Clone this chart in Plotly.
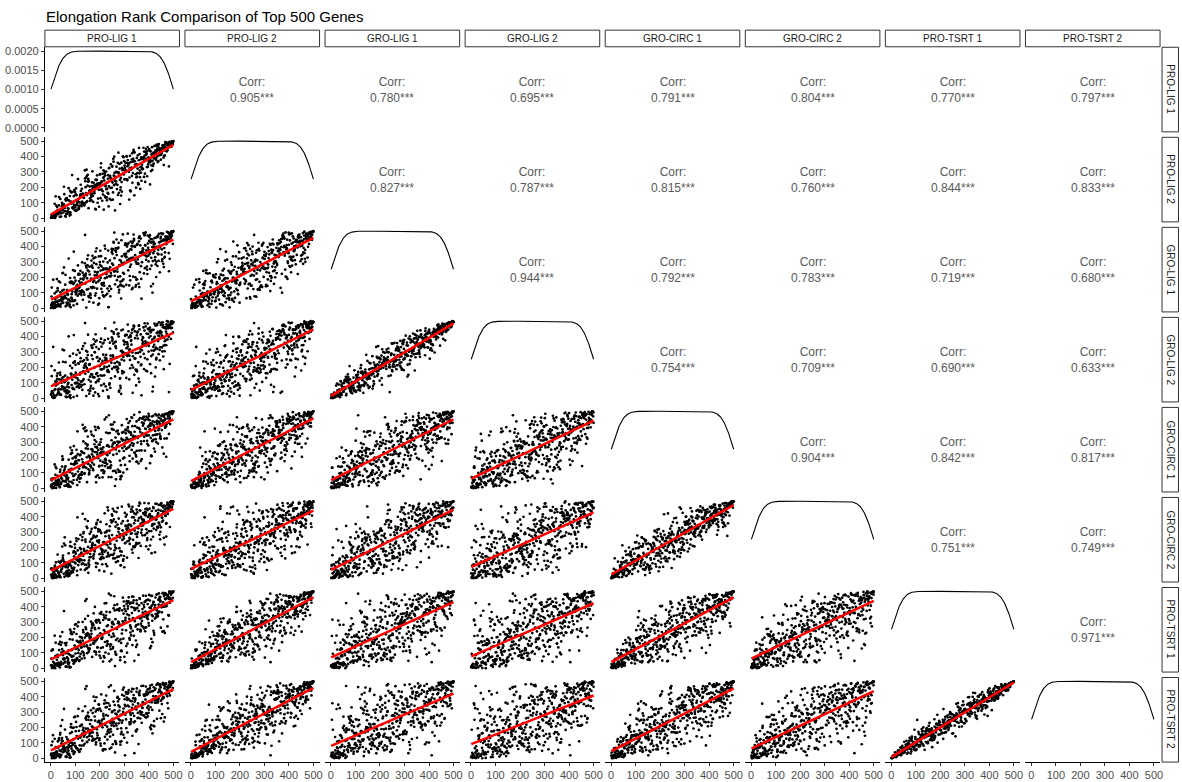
import numpy as np
import plotly.graph_objects as go

# ---------------------------------------------------------------- data
samples = ["PRO-LIG 1", "PRO-LIG 2", "GRO-LIG 1", "GRO-LIG 2",
           "GRO-CIRC 1", "GRO-CIRC 2", "PRO-TSRT 1", "PRO-TSRT 2"]
n_genes = 500

# Pairwise correlations of the elongation ranks (upper triangle, row by row)
corr_row_1 = [0.905, 0.780, 0.695, 0.791, 0.804, 0.770, 0.797]
corr_row_2 = [0.827, 0.787, 0.815, 0.760, 0.844, 0.833]
corr_row_3 = [0.944, 0.792, 0.783, 0.719, 0.680]
corr_row_4 = [0.754, 0.709, 0.690, 0.633]
corr_row_5 = [0.904, 0.842, 0.817]
corr_row_6 = [0.751, 0.749]
corr_row_7 = [0.971]
corr_rows = [corr_row_1, corr_row_2, corr_row_3, corr_row_4,
             corr_row_5, corr_row_6, corr_row_7]
signif_stars = "***"

rank_ticks = [0, 100, 200, 300, 400, 500]
density_ticks = [0.0, 0.0005, 0.0010, 0.0015, 0.0020]

k = len(samples)
target = np.eye(k)
for i, row in enumerate(corr_rows):
    for off, r in enumerate(row):
        j = i + 1 + off
        target[i, j] = target[j, i] = r


def rank_cols(z):
    return np.argsort(np.argsort(z, axis=0), axis=0) + 1.0


def nearest_corr(m):
    w, v = np.linalg.eigh(m)
    w = np.clip(w, 1e-4, None)
    m = v @ np.diag(w) @ v.T
    d = np.sqrt(np.diag(m))
    return m / np.outer(d, d)


# Per-gene ranks: Gaussian copula tuned so that the rank correlations
# reproduce the correlation table above.
rng = np.random.default_rng(11)
E = rng.standard_normal((n_genes, k))
E -= E.mean(axis=0)
E = E @ np.linalg.inv(np.linalg.cholesky(np.cov(E, rowvar=False))).T
latent = 2 * np.sin(np.pi * target / 6)
ranks = None
for _ in range(300):
    m = nearest_corr(latent)
    ranks = rank_cols(E @ np.linalg.cholesky(m).T)
    got = np.corrcoef(ranks, rowvar=False)
    err = target - got
    if np.abs(err).max() < 2e-4:
        break
    latent = latent + err
    np.fill_diagonal(latent, 1.0)


def kde_nrd0(x, n=512):
    x = np.asarray(x, float)
    sd = x.std(ddof=1)
    iqr = np.subtract(*np.percentile(x, [75, 25]))
    bw = 0.9 * min(sd, iqr / 1.34) * len(x) ** -0.2
    grid = np.linspace(x.min(), x.max(), n)
    dens = np.exp(-0.5 * ((grid[:, None] - x[None, :]) / bw) ** 2).sum(1)
    dens /= len(x) * bw * np.sqrt(2 * np.pi)
    return grid, dens


# ---------------------------------------------------------------- layout
FIG_W, FIG_H = 1182, 782
X0, X1 = 45.0, 1163.0
Y0, Y1 = 45.5, 764.0
GAP = 5.5
PW = (X1 - X0 - 7 * GAP) / 8
PH = (Y1 - Y0 - 7 * GAP) / 8

FONT = "Liberation Sans, Arial, sans-serif"
TICK_FONT = dict(family=FONT, size=11, color="#4d4d4d")


def px_x(p):
    return p / FIG_W


def px_y(p):
    return 1 - p / FIG_H


def cell_box(i, j):
    left = X0 + j * (PW + GAP)
    top = Y0 + i * (PH + GAP)
    return left, left + PW, top, top + PH


lo_r = ranks.min() - 0.05 * (ranks.max() - ranks.min())
hi_r = ranks.max() + 0.05 * (ranks.max() - ranks.min())

fig = go.Figure()
layout = dict(
    width=FIG_W, height=FIG_H, autosize=False,
    margin=dict(l=0, r=0, t=0, b=0),
    paper_bgcolor="white", plot_bgcolor="white",
    showlegend=False, font=dict(family=FONT),
)
annotations = []
shapes = []


def centred_note(xp, yp, text, font, angle=0):
    return dict(x=px_x(xp), y=px_y(yp), xref="paper", yref="paper",
                xanchor="center", yanchor="middle", showarrow=False,
                text=text, font=font, textangle=angle, align="center")


ax_n = 0
for i in range(k):
    for j in range(k):
        left, right, top, bottom = cell_box(i, j)
        if j > i:
            r = target[i, j]
            annotations.append(centred_note(
                (left + right) / 2, (top + bottom) / 2,
                f"Corr:<br>{r:.3f}{signif_stars}",
                dict(family=FONT, size=12, color="#595959")))
            continue

        ax_n += 1
        xa = "x" if ax_n == 1 else f"x{ax_n}"
        ya = "y" if ax_n == 1 else f"y{ax_n}"
        xkey = "xaxis" if ax_n == 1 else f"xaxis{ax_n}"
        ykey = "yaxis" if ax_n == 1 else f"yaxis{ax_n}"

        xaxis = dict(domain=[px_x(left), px_x(right)], anchor=ya,
                     range=[lo_r, hi_r], showgrid=False, zeroline=False,
                     showline=False, showticklabels=False, ticks="")
        yaxis = dict(domain=[px_y(bottom), px_y(top)], anchor=xa,
                     showgrid=False, zeroline=False,
                     showline=False, showticklabels=False, ticks="")

        if i == j:
            grid, dens = kde_nrd0(ranks[:, j])
            fig.add_trace(go.Scatter(
                x=grid, y=dens, mode="lines", xaxis=xa, yaxis=ya,
                line=dict(color="black", width=1.1), hoverinfo="skip"))
            dmax = dens.max()
            yaxis["range"] = [-0.05 * dmax, 1.05 * dmax]
            if j == 0:
                yaxis.update(tickvals=density_ticks,
                             ticktext=[f"{t:.4f}" for t in density_ticks])
        else:
            xv = ranks[:, j]
            yv = ranks[:, i]
            fig.add_trace(go.Scatter(
                x=xv, y=yv, mode="markers", xaxis=xa, yaxis=ya,
                marker=dict(color="black", size=2.7, line=dict(width=0)),
                hoverinfo="skip"))
            slope, icpt = np.polyfit(xv, yv, 1)
            xs = np.array([xv.min(), xv.max()])
            fig.add_trace(go.Scatter(
                x=xs, y=icpt + slope * xs, mode="lines", xaxis=xa, yaxis=ya,
                line=dict(color="#ff0000", width=2.5), hoverinfo="skip"))
            yaxis["range"] = [lo_r, hi_r]
            if j == 0:
                yaxis.update(tickvals=rank_ticks)

        if j == 0:
            yaxis.update(showline=True, linecolor="black", linewidth=1.1,
                         showticklabels=True, ticks="outside", ticklen=3,
                         tickwidth=1, tickcolor="#333333", tickfont=TICK_FONT)
        if i == k - 1:
            xaxis.update(showline=True, linecolor="black", linewidth=1.1,
                         showticklabels=True, ticks="outside", ticklen=3,
                         tickwidth=1, tickcolor="#333333", tickfont=TICK_FONT,
                         tickvals=rank_ticks)
        layout[xkey] = xaxis
        layout[ykey] = yaxis

# facet strips: sample names along the top and down the right side
STRIP_LINE = dict(color="#333333", width=1)
STRIP_FONT = dict(family=FONT, size=10, color="#1a1a1a")
STRIP_TOP = 28.3
for j, name in enumerate(samples):
    left, right, _, _ = cell_box(0, j)
    shapes.append(dict(type="rect", xref="paper", yref="paper",
                       x0=px_x(left), x1=px_x(right),
                       y0=px_y(Y0 - 0.5), y1=px_y(STRIP_TOP),
                       fillcolor="white", line=STRIP_LINE))
    annotations.append(centred_note((left + right) / 2,
                                    (STRIP_TOP + Y0) / 2, name, STRIP_FONT))
for i, name in enumerate(samples):
    _, _, top, bottom = cell_box(i, k - 1)
    shapes.append(dict(type="rect", xref="paper", yref="paper",
                       x0=px_x(1165), x1=px_x(1181.5),
                       y0=px_y(bottom), y1=px_y(top),
                       fillcolor="white", line=STRIP_LINE))
    annotations.append(centred_note(1173.2, (top + bottom) / 2, name,
                                    STRIP_FONT, angle=90))

annotations.append(dict(x=px_x(44), y=px_y(14.5), xref="paper", yref="paper",
                        xanchor="left", yanchor="middle", showarrow=False,
                        text="Elongation Rank Comparison of Top 500 Genes",
                        font=dict(family=FONT, size=15, color="black")))

layout["annotations"] = annotations
layout["shapes"] = shapes
fig.update_layout(**layout)
fig.write_html("out.html")
